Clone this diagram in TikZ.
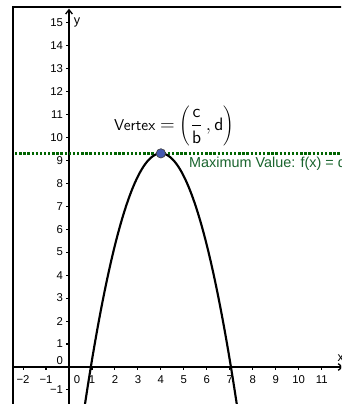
\documentclass[tikz,border=0pt]{standalone}
\usepackage{fontspec}
\newfontfamily\arial{Liberation Sans}
\usetikzlibrary{arrows.meta}
\definecolor{ggreen}{RGB}{0,100,0}
\definecolor{gtext}{RGB}{25,100,45}
\definecolor{gblue}{RGB}{68,88,176}
\begin{document}
\begin{tikzpicture}[x=17.2275pt,y=17.2275pt,
  ticklab/.style={font=\arial\fontsize{8.5}{10}\selectfont, inner sep=0pt},
  axisline/.style={line width=1pt},
  tickmark/.style={line width=0.8pt},
  framestyle/.style={line width=1.5pt},
  curvestyle/.style={line width=1.6pt},
  maxline/.style={ggreen, line width=2pt, dash pattern=on 1.8pt off 1.3pt},
  vpoint/.style={circle, fill=gblue, draw=black!75, line width=0.5pt, inner sep=0pt, minimum size=7pt}]
\useasboundingbox (-3.004,-1.611) rectangle (11.842,15.977);
\clip (-3.004,-1.611) rectangle (11.842,15.977);
% frame
\coordinate (fb) at (-2.438,-1.8);
\coordinate (fc) at (-2.438,15.672);
\coordinate (fr) at (12.2,15.672);
\draw[framestyle] (fb) -- (fc) -- (fr);
% axes
\coordinate (xs) at (-2.438,0);
\coordinate (xe) at (11.95,0);
\coordinate (ys) at (0,-1.8);
\coordinate (ye) at (0,15.6);
\draw[axisline,-{Straight Barb[length=3.2pt,width=5pt]}] (xs) -- (xe);
\draw[axisline,-{Straight Barb[length=3.2pt,width=5pt]}] (ys) -- (ye);
% x ticks
\foreach \i in {-2,-1,1,2,...,11}{
  \draw[tickmark] (\i,0) -- (\i,-0.13);
  \node[ticklab, anchor=base] (xl\i) at (\i,-0.70) {\ifnum\i<0 −\the\numexpr-\i\relax\else\i\fi};
}
\node[ticklab, anchor=base] (xl0) at (0.35,-0.70) {0};
% y ticks
\foreach \j in {-1,1,2,...,15}{
  \draw[tickmark] (0,\j) -- (-0.13,\j);
  \node[ticklab, anchor=east] (yl\j) at (-0.25,\j) {\ifnum\j<0 −\the\numexpr-\j\relax\else\j\fi};
}
\node[ticklab, anchor=east] (yl0) at (-0.25,0.29) {0};
% axis names
\node[ticklab, font=\arial\fontsize{9.5}{11}\selectfont, anchor=west] (ylab) at (0.2,15.0) {y};
\node[ticklab, font=\arial\fontsize{9.5}{11}\selectfont, anchor=west] (xlab) at (11.68,0.38) {x};
% maximum line
\coordinate (ml) at (-2.35,9.3);
\coordinate (mr) at (12.2,9.3);
\draw[maxline] (ml) -- (mr);
% parabola
\draw[curvestyle, domain=0.55:7.45, samples=120, smooth] plot (\x,{9.3-(\x-4)*(\x-4)});
% vertex
\node[vpoint] (v) at (4,9.3) {};
\node[anchor=base west, inner sep=0pt, font=\sffamily\fontsize{13.5}{15}\selectfont] (vt) at (1.95,10.3)
  {{\fontsize{11.8}{13}\selectfont Vertex}\hspace{3.5pt}$\displaystyle =\left(\frac{\textsf{c}}{\textsf{b}}\,,\textsf{d}\right)$};
\node[anchor=base west, inner sep=0pt, text=gtext, font=\arial\fontsize{10.8}{13}\selectfont] (mt) at (5.22,8.68)
  {Maximum Value: f(x) = d};
\end{tikzpicture}
\end{document}
